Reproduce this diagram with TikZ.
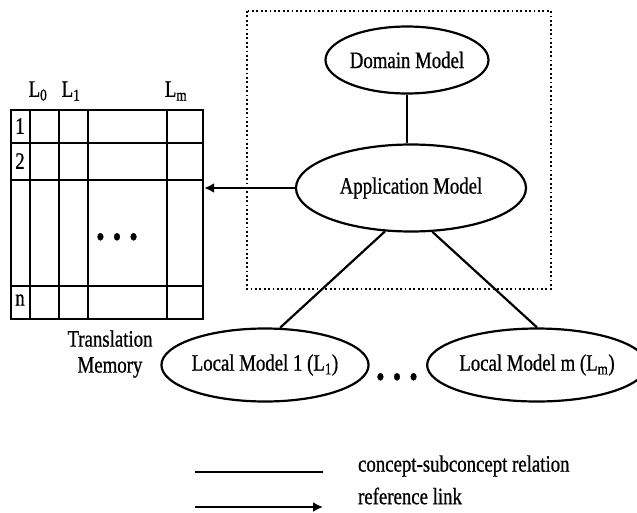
\documentclass[tikz,border=0pt]{standalone}
\usepackage{fontspec}
\setmainfont{Liberation Serif}[FakeStretch=0.8,FakeBold=0.8]
\usetikzlibrary{shapes.geometric,arrows.meta,positioning}

\newcommand{\dotrow}{\scalebox{1.3}{\textbullet}\hspace{8pt}\scalebox{1.3}{\textbullet}\hspace{8pt}\scalebox{1.3}{\textbullet}}

\tikzset{
  model/.style={draw, ellipse, line width=2.2pt, inner sep=0pt},
  txt/.style={font=\fontsize{23.5}{26}\selectfont, inner sep=1pt},
  grid/.style={line width=2.2pt},
  frame/.style={line width=1.8pt, dash pattern=on 1.8pt off 2.6pt},
}

\begin{document}
\begin{tikzpicture}[
                    x=1pt, y=-1pt,
                    line width=2.2pt,
                    every node/.style={txt},
                    >={Latex[length=10pt,width=10pt]}
                    ]
                    \useasboundingbox (0,0) rectangle (637,512);

                    % translation memory table
                    \node [draw, grid, minimum width=192pt, minimum height=209pt, inner sep=0pt, anchor=north west] (tm) at (10,109) {};
                    \foreach \x in {30,59,88,167} \draw[grid] (\x,109) -- (\x,318);
                    \foreach \y in {143,180,286} \draw[grid] (10,\y) -- (202,\y);

                    \node (l0) at (38,91) {L\textsubscript{0}};
                    \node (l1) at (71,91) {L\textsubscript{1}};
                    \node (lm) at (176,91) {L\textsubscript{m}};
                    \node (r1) at (20,126) {1};
                    \node (r2) at (20,161) {2};
                    \node (rn) at (20,300) {n};
                    \node (tmdots) at (117,240) {\dotrow};
                    \node [align=center] (tmlabel) at (110,354) {Translation\\Memory};

                    % models
                    \draw[frame] (247,11) rectangle (551,289);
                    \node [model, minimum width=163pt, minimum height=67pt] (dm) at (407,60) {Domain Model};
                    \node [model, minimum width=230pt, minimum height=87pt] (am) at (411,188) {Application Model};
                    \node [model, minimum width=196pt, minimum height=73pt] (lm1) at (265,365) {Local Model 1 (L\textsubscript{1})};
                    \node [model, minimum width=196pt, minimum height=73pt] (lmm) at (537,365) {Local Model m (L\textsubscript{m})};
                    \node (lmdots) at (397,380) {\dotrow};

                    \draw (dm.south) -- (dm.south |- am.north);
                    \draw (am.239) -- (lm1.68);
                    \draw (am.296) -- (lmm.north);
                    \draw[->] (am.west) -- (am.west -| tm.east);

                    % legend
                    \coordinate (cs1) at (195,472);
                    \node [coordinate, right=128pt of cs1] (cs2) {};
                    \draw (cs1) -- (cs2);
                    \node [right=33pt of cs2, yshift=6pt] (cslabel) {concept-subconcept relation};

                    \coordinate (rl1) at (195,507);
                    \node [coordinate, right=128pt of rl1] (rl2) {};
                    \draw[->] (rl1) -- (rl2);
                    \node [right=33pt of rl2, yshift=11pt] (rllabel) {reference link};
                \end{tikzpicture}
\end{document}
